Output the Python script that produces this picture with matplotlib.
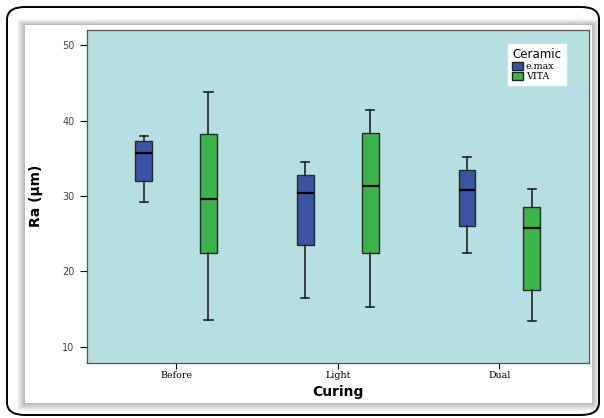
import matplotlib.pyplot as plt
from matplotlib.patches import FancyBboxPatch, Rectangle, Patch

# ---- data (Ra in µm) ----
curing = ['Before', 'Light', 'Dual']
ceramics = ['e.max', 'VITA']
# whisker low, Q1, median, Q3, whisker high
emax_low = [29.2, 16.5, 22.4]
emax_q1 = [32.0, 23.5, 26.0]
emax_med = [35.7, 30.4, 30.8]
emax_q3 = [37.3, 32.8, 33.4]
emax_high = [38.0, 34.5, 35.2]
vita_low = [13.6, 15.3, 13.4]
vita_q1 = [22.4, 22.4, 17.5]
vita_med = [29.6, 31.3, 25.8]
vita_q3 = [38.2, 38.3, 28.6]
vita_high = [43.8, 41.4, 30.9]

colors = {'e.max': '#3a54a3', 'VITA': '#3bb44a'}
bg = '#b6dfe1'

W, H = 604, 418


def stats(low, q1, med, q3, high):
    return [dict(whislo=a, q1=b, med=c, q3=d, whishi=e, fliers=[])
            for a, b, c, d, e in zip(low, q1, med, q3, high)]


def px_rect(x0, y0, x1, y1, **kw):
    # rectangle given in pixel coords measured from the top-left
    return Rectangle((x0 / W, 1 - y1 / H), (x1 - x0) / W, (y1 - y0) / H,
                     transform=fig.transFigure, **kw)


fig = plt.figure(figsize=(6.04, 4.18), dpi=100)

# outer rounded frame
frame = FancyBboxPatch((7 / W, 1 - 415 / H), 592 / W, 408 / H,
                       boxstyle='round,pad=0,rounding_size=0.03',
                       transform=fig.transFigure, facecolor='white',
                       edgecolor='black', linewidth=1.4, zorder=-10)
fig.patches.append(frame)

# soft shadow around the inner white panel
for d in range(8, 0, -1):
    fig.patches.append(px_rect(25 - d, 25 - d * 0.7, 592 + d, 403 + d,
                               facecolor='black', alpha=0.035, edgecolor='none',
                               zorder=-9))
fig.patches.append(px_rect(25, 25, 592, 403, facecolor='white',
                           edgecolor='none', zorder=-8))

ax = fig.add_axes([86.5 / W, 1 - 362.5 / H, (589 - 86.5) / W, (362.5 - 29.5) / H])
ax.set_facecolor(bg)

x = list(range(len(curing)))
off = 0.2
w = 0.105
for name, st, shift in [('e.max', stats(emax_low, emax_q1, emax_med, emax_q3, emax_high), -off),
                        ('VITA', stats(vita_low, vita_q1, vita_med, vita_q3, vita_high), off)]:
    ax.bxp(st, positions=[p + shift for p in x], widths=w, patch_artist=True,
           showfliers=False,
           boxprops=dict(facecolor=colors[name], edgecolor='#2a2a2a', linewidth=1),
           medianprops=dict(color='black', linewidth=1.6),
           whiskerprops=dict(color='#222222', linewidth=1.2),
           capprops=dict(color='#222222', linewidth=1.2), capwidths=0.05)

ax.set_xlim(-0.555, 2.555)
ax.set_ylim(7.9, 52.1)
ax.set_xticks(x)
ax.set_xticklabels(curing, family='DejaVu Serif', fontsize=6.8)
ax.set_yticks([10, 20, 30, 40, 50])
ax.tick_params(axis='y', labelsize=7, labelcolor='#444444', length=5, width=0.8)
ax.tick_params(axis='x', length=4, width=0.8, pad=2)
for s in ax.spines.values():
    s.set_color('#555555')
    s.set_linewidth(0.9)

ax.set_xlabel('Curing', fontsize=10, fontweight='bold', labelpad=4)
ax.set_ylabel('Ra (µm)', fontsize=10, fontweight='bold', labelpad=14,
              family='Liberation Sans Narrow')

handles = [Patch(facecolor=colors[c], edgecolor='#222222', label=c) for c in ceramics]
leg = ax.legend(handles=handles, title='Ceramic', loc='upper right',
                bbox_to_anchor=(0.963, 0.97), frameon=True, fancybox=False,
                prop=dict(family='DejaVu Serif', size=6.8), title_fontsize=8.5,
                handlelength=1.1, handleheight=0.95, handletextpad=0.3,
                labelspacing=0.05, borderpad=0.45)
leg._legend_box.align = 'left'
leg.get_frame().set_facecolor('white')
leg.get_frame().set_edgecolor('white')
leg.get_frame().set_alpha(1)

fig.savefig('out.png', dpi=100)
